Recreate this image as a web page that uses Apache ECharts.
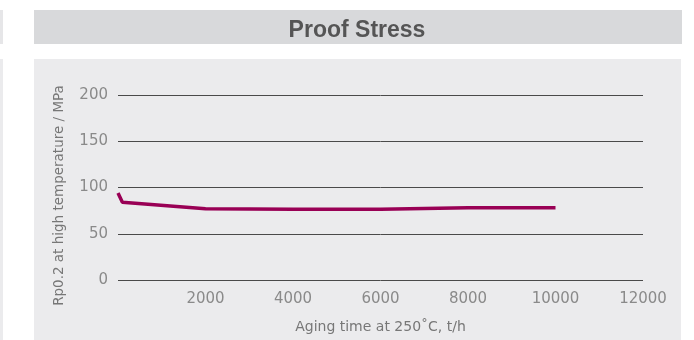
<!DOCTYPE html>
<html><head><meta charset="utf-8">
<script src="https://cdn.jsdelivr.net/npm/echarts@6/dist/echarts.min.js"></script>
<style>html,body{margin:0;padding:0;background:#fff}#c{width:694px;height:340px}</style>
</head><body><div id="c"></div>
<script>
const titleText = 'Proof Stress';
const xName = 'Aging time at 250˚C, t/h';
const yName = 'Rp0.2 at high temperature / MPa';
const hours = [0, 100, 2000, 4000, 6000, 8000, 10000];
const proofStress = [94, 84, 77, 76.5, 76.5, 78, 78];

const lightFont = 'DejaVu Sans, sans-serif';
const chart = echarts.init(document.getElementById('c'), null, {renderer: 'canvas'});
chart.setOption({
  animation: false,
  backgroundColor: '#ffffff',
  graphic: [
    {type: 'rect', z: -10, shape: {x: 0, y: 10, width: 3, height: 34}, style: {fill: '#e6e6e8'}},
    {type: 'rect', z: -10, shape: {x: 0, y: 59, width: 3, height: 281}, style: {fill: '#ebebed'}},
    {type: 'rect', z: -10, shape: {x: 34, y: 10, width: 648, height: 34}, style: {fill: '#d8d9db'}},
    {type: 'rect', z: -10, shape: {x: 34, y: 59, width: 647, height: 281}, style: {fill: '#ebebed'}}
  ],
  title: {
    text: titleText, left: 352, top: 14, textAlign: 'center',
    textStyle: {fontFamily: 'Liberation Sans, Arial, sans-serif', fontSize: 23, fontWeight: 'bold', color: '#555555'}
  },
  grid: {left: 118, right: 51, top: 95, bottom: 60},
  xAxis: {
    type: 'value', min: 0, max: 12000, interval: 2000,
    name: xName, nameLocation: 'middle', nameGap: 40,
    nameTextStyle: {fontFamily: lightFont, fontSize: 14, color: '#777777'},
    axisLine: {show: false}, axisTick: {show: false}, splitLine: {show: false},
    axisLabel: {showMinLabel: false, margin: 12, fontFamily: lightFont, fontSize: 15, color: '#8a8a8a',
      formatter: v => String(v)}
  },
  yAxis: {
    type: 'value', min: 0, max: 200, interval: 50,
    name: yName, nameLocation: 'middle', nameGap: 52, nameRotate: 90,
    nameTextStyle: {fontFamily: lightFont, fontSize: 13.5, color: '#777777', padding: [0, 16, 0, 0]},
    axisLine: {show: false}, axisTick: {show: false},
    splitLine: {lineStyle: {color: '#4a4a4a', width: 1}},
    axisLabel: {margin: 10, fontFamily: lightFont, fontSize: 15, color: '#8a8a8a'}
  },
  series: [{
    type: 'line', data: hours.map((h, i) => [h, proofStress[i]]),
    showSymbol: false, symbol: 'none',
    lineStyle: {color: '#990055', width: 3.5}
  }]
});
</script></body></html>
